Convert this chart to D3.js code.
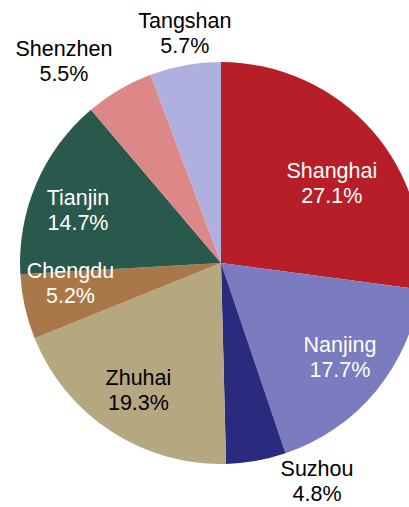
<!DOCTYPE html>
<html>
<head>
<meta charset="utf-8">
<script src="https://cdn.jsdelivr.net/npm/d3@7"></script>
<style>
  body { margin: 0; background: #fff; }
  text { font-family: "Liberation Sans", Arial, sans-serif; font-size: 21.5px; }
</style>
</head>
<body>
<div id="chart"></div>
<script>
var cities = ["Shanghai", "Nanjing", "Suzhou", "Zhuhai", "Chengdu", "Tianjin", "Shenzhen", "Tangshan"];
var shares = [27.1, 17.7, 4.8, 19.3, 5.2, 14.7, 5.5, 5.7];
var colors = ["#b81e27", "#7b7bc0", "#2a2a7e", "#b5a780", "#a87848", "#29584d", "#dc8888", "#afafe0"];
var textColors = ["#fff", "#fff", "#000", "#000", "#fff", "#fff", "#000", "#000"];

// label placement: radius and angle nudge (degrees) relative to slice middle
var labelR = [136, 152, 239, 152, 152, 152, 255, 232];
var labelTurn = [5.8, -0.9, -13.6, -0.4, 4.6, -3.4, -7.6, 1.3];

var width = 409, height = 507,
    cx = 221, cy = 263, radius = 201;

var svg = d3.select("#chart").append("svg")
    .attr("width", width)
    .attr("height", height);

var g = svg.append("g")
    .attr("transform", "translate(" + cx + "," + cy + ")");

var data = cities.map(function (c, i) { return { city: c, share: shares[i], i: i }; });

var pie = d3.pie()
    .sort(null)
    .value(function (d) { return d.share; });

var arc = d3.arc()
    .outerRadius(radius)
    .innerRadius(0);

var arcs = pie(data);

g.append("g").selectAll("path")
    .data(arcs)
    .enter().append("path")
    .attr("d", arc)
    .attr("fill", function (d) { return colors[d.data.i]; });

// labels go on top of every slice
var label = g.append("g").selectAll("text")
    .data(arcs)
    .enter().append("text")
    .attr("text-anchor", "middle")
    .attr("fill", function (d) { return textColors[d.data.i]; })
    .attr("transform", function (d) {
        var a = (d.startAngle + d.endAngle) / 2 + labelTurn[d.data.i] * Math.PI / 180;
        var r = labelR[d.data.i];
        var x = r * Math.sin(a), y = -r * Math.cos(a);
        return "translate(" + x + "," + (y - 6) + ")";
    });

label.append("tspan")
    .attr("x", 0)
    .text(function (d) { return d.data.city; });

label.append("tspan")
    .attr("x", 0)
    .attr("dy", 25)
    .text(function (d) { return d.data.share.toFixed(1) + "%"; });
</script>
</body>
</html>
